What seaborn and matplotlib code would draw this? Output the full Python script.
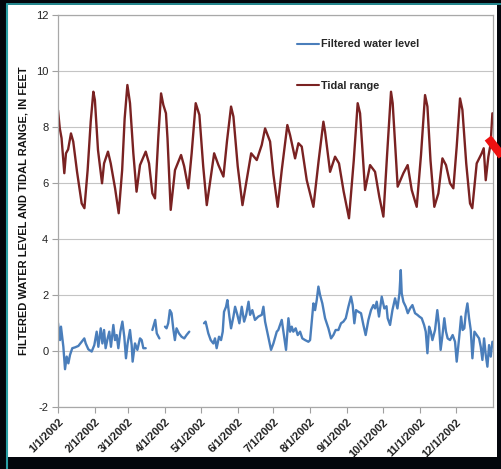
import matplotlib
matplotlib.use("Agg")
import matplotlib.pyplot as plt
from matplotlib.lines import Line2D
from matplotlib.patches import Rectangle
import seaborn as sns
import pandas as pd

# ---------------- data (days since 1/1/2002, feet) ----------------
tide_days = [0, 1.5, 3, 5.3, 6.7, 8.5, 10.9, 12.8, 16, 19.9, 22.2, 24.9, 27.5, 29.7, 31,
             33.6, 37, 38.7, 42, 44.3, 48, 51, 53.9, 56, 58.3, 60.5, 63.3, 66, 68.9, 73.7,
             76.5, 79.3, 81.5, 84.3, 86.6, 88.5, 90.7, 92, 94.7, 98.3, 103.4, 106, 109.5,
             112.3, 115.7, 118.8, 122, 125, 128, 131.2, 134.8, 139, 142, 145.4, 147.4, 151,
             155, 158.5, 162.3, 167, 171.2, 174, 178.2, 181, 184.6, 188, 192.7, 195, 199.2,
             202, 204.8, 209, 214.6, 219, 223, 224.4, 228.6, 232.8, 236.1, 240, 244.5,
             248.5, 251.8, 253.8, 258, 262.2, 266.4, 270, 273.4, 276.5, 279.8, 281.2, 285.4,
             290.2, 293.8, 297.2, 301.4, 305, 308.4, 310.4, 313, 316.2, 319.6, 323, 326,
             329.4, 332.2, 335, 337.8, 339.8, 343, 346.2, 348.1, 351.8, 356, 357.7, 359.4,
             361.6, 363.5, 365]
tide_vals = [8.6, 7.95, 7.6, 6.35, 7.06, 7.2, 7.77, 7.48, 6.4, 5.27, 5.1, 6.46, 8.2, 9.26, 8.96,
             7.18, 5.99, 6.7, 7.12, 6.7, 5.8, 4.92, 6.46, 8.3, 9.5, 8.85, 7.06, 5.69, 6.64, 7.12,
             6.7, 5.63, 5.45, 7.65, 9.2, 8.79, 8.49, 7.6, 5.04, 6.46, 7.0, 6.6, 5.81,
             7.06, 8.85, 8.43, 6.6, 5.21, 6.1, 7.06, 6.64, 6.23, 7.5, 8.73, 8.37, 6.6,
             5.21, 6.1, 7.06, 6.82, 7.36, 7.95, 7.48, 6.3, 5.15, 6.46, 8.07, 7.71, 6.88,
             7.42, 7.3, 6.1, 5.15, 6.8, 8.19, 7.83, 6.4, 6.94, 6.7, 5.7, 4.74,
             6.8, 8.85, 8.49, 5.75, 6.64, 6.4, 5.5, 4.8, 7.0, 9.26, 8.85, 5.87,
             6.35, 6.64, 5.75, 5.15, 7.0, 9.14, 8.73, 6.8, 5.15, 5.63, 6.88, 6.64,
             5.99, 5.81, 7.3, 9.02, 8.61, 6.7, 5.27, 5.1, 6.7, 7.06, 7.24, 6.1,
             6.94, 7.4, 8.49]

# filtered water level, four continuous pieces separated by data gaps
wl_days_1 = [0, 1.7, 2.5, 4.5, 5.9, 7.3, 8.7, 10.1, 12, 14.3, 17.1, 19.9, 22.1, 23.3, 25.5,
             28.3, 30.5, 32.5, 33.9, 35.9, 37.3, 38.7, 40, 41.7, 43.1, 44.5, 46.5, 47.9,
             49.3, 50.7, 52.4, 54.1, 55.7, 57.1, 58.5, 60.5, 61.9, 62.7, 64.7, 66.7, 68.9,
             70.3, 71.7, 73.7]
wl_vals_1 = [1.0, 0.39, 0.87, 0.15, -0.65, -0.2, -0.44, -0.14, 0.1, 0.13, 0.18, 0.33, 0.45,
             0.27, 0.06, -0.02, 0.21, 0.69, 0.15, 0.81, 0.27, 0.75, 0.1, 0.45, 0.69, 0.15,
             0.93, 0.39, 0.57, 0.1, 0.69, 1.05, 0.51, -0.26, 0.27, 0.75, 0.21, -0.38, 0.27,
             0.04, 0.45, 0.39, 0.1, 0.1]
wl_days_2 = [79.3, 81.7, 83, 85.2]
wl_vals_2 = [0.75, 1.11, 0.63, 0.45]
wl_days_3 = [89.9, 91.2, 92.6, 94, 95.4, 96.8, 98.2, 99.6, 101.6, 103.8, 106.1, 108, 110.3]
wl_vals_3 = [0.87, 0.81, 0.99, 1.46, 1.35, 0.81, 0.39, 0.81, 0.63, 0.51, 0.45, 0.57, 0.69]
wl_days_4 = [122.7, 124, 126.3, 128.3, 130.5, 131.9, 133.3, 135.3, 137, 138.4, 139.5, 141.2,
             142.3, 144, 145.4, 147.4, 148.8, 150.7, 152.4, 154.4, 156.4, 158.1, 160.1,
             161.4, 163.3, 165.5, 168.3, 171.2, 172.6, 174, 176.7, 179, 181, 183.8, 185.1,
             188, 189.4, 191.6, 193.6, 195, 196.4, 197.7, 199.7, 201.4, 203.4, 205.3, 207.6,
             210.4, 211.8, 213.2, 214.6, 216, 217.4, 218.8, 220.2, 222.1, 224.4, 227.2,
             229.4, 231.4, 233.3, 235.6, 237.8, 239.8, 241.8, 244, 246.2, 247.6, 249, 250.4,
             252.4, 254.6, 256.6, 258.5, 260.8, 263, 265, 266.4, 267.8, 269.7, 272, 274.2,
             276, 277, 279, 281, 283.2, 285.2, 286.9, 288, 288.8, 290.2, 292.2, 293.9, 295.8,
             297.8, 300, 302, 303.6, 305.6, 307.6, 309, 310.4, 311.8, 313.2, 314.6, 316.8,
             318.7, 320.1, 321.5, 322.9, 324.6, 326, 327.4, 329.4, 331.6, 333.6, 335, 337,
             338.7, 340, 341.4, 342.6, 344, 345.4, 346.8, 348.2, 349.9, 351.8, 353.8, 355.2,
             356.6, 358, 359.4, 360.8, 362.2, 363.6, 365]
wl_vals_4 = [0.99, 1.05, 0.63, 0.39, 0.27, 0.45, 0.1, 0.51, 0.39, 0.69, 1.4, 1.58,
             1.82, 1.23, 0.81, 1.23, 1.58, 1.29, 0.99, 1.58, 1.05, 1.29, 1.76,
             1.29, 1.46, 1.11, 1.23, 1.29, 1.58, 1.05, 0.51, 0.04, 0.27, 0.69, 0.75,
             1.11, 0.69, 0.04, 1.17, 0.69, 0.87, 0.69, 0.81, 0.57, 0.69, 0.45, 0.39,
             0.33, 0.39, 1.05, 1.7, 1.46, 1.82, 2.3, 2.0, 1.7, 1.17, 0.81,
             0.45, 0.57, 0.75, 0.75, 0.99, 1.05, 1.17, 1.58, 1.94, 1.64, 0.99, 1.46,
             1.4, 1.35, 0.93, 0.57, 1.11, 1.46, 1.64, 1.52, 1.76, 1.23, 1.94, 1.52,
             1.6, 1.17, 0.93, 1.46, 1.88, 1.52, 2.06, 2.89, 2.06, 1.76, 1.58, 1.35, 1.52,
             1.64, 1.35, 1.29, 1.23, 1.17, 0.93, 0.69, -0.08, 0.87, 0.69, 0.39, 0.75,
             1.46, 0.93, 0.04, 0.51, 1.17, 0.69, 0.45, 0.39, 0.57, 0.33, -0.38, 0.45,
             1.23, 0.75, 0.81, 1.35, 1.7, 1.17, 0.75, -0.26, 0.69, 0.57, 0.45, 0.15,
             -0.32, 0.45, -0.14, -0.56, 0.21, -0.2, 0.33]

month_ticks = ["2002-%02d-01" % m for m in range(1, 13)]
y_ticks = [-2, 0, 2, 4, 6, 8, 10, 12]
series_labels = ["Filtered water level", "Tidal range"]

# ---------------- build frames ----------------
start = pd.Timestamp("2002-01-01")
tide_df = pd.DataFrame({"date": start + pd.to_timedelta(tide_days, unit="D"),
                        "value": tide_vals})
pieces = [(wl_days_1, wl_vals_1), (wl_days_2, wl_vals_2),
          (wl_days_3, wl_vals_3), (wl_days_4, wl_vals_4)]
wl_frames = []
for i, (d, v) in enumerate(pieces):
    wl_frames.append(pd.DataFrame({"date": start + pd.to_timedelta(d, unit="D"),
                                   "value": v, "seg": i}))
wl_df = pd.concat(wl_frames, ignore_index=True)

# ---------------- plotting ----------------
sns.set_theme(style="white")
plt.rcParams["font.family"] = ["Liberation Sans", "DejaVu Sans"]

W, H = 501, 469
fig = plt.figure(figsize=(W / 100, H / 100), dpi=100, facecolor="#03060c")

def fx(px):
    return px / W

def fy(py):
    return 1 - py / H

# white slide panel and teal borders (behind the axes)
fig.patches.append(Rectangle((fx(7), fy(457)), fx(497) - fx(7), fy(5) - fy(457),
                             transform=fig.transFigure, facecolor="white",
                             edgecolor="none", zorder=-10))
fig.add_artist(Line2D([fx(6.5), fx(6.5)], [0, fy(4)], transform=fig.transFigure,
                      color="#2a9fa6", lw=1.5, zorder=-5))
fig.add_artist(Line2D([fx(6.5), 1], [fy(4), fy(4)], transform=fig.transFigure,
                      color="#2a9fa6", lw=1.2, zorder=-5))

ax = fig.add_axes([fx(58), fy(407), fx(493) - fx(58), fy(15) - fy(407)])
ax.set_zorder(5)
ax.set_facecolor("white")

blue = "#4a7ebb"
red = "#7a2222"
sns.lineplot(data=wl_df, x="date", y="value", units="seg", estimator=None,
             color=blue, lw=1.7, ax=ax)
sns.lineplot(data=tide_df, x="date", y="value", color=red, lw=1.7, ax=ax)

ax.set_xlim(start, start + pd.Timedelta(days=365.5))
ax.set_ylim(-2, 12)
ax.set_yticks(y_ticks)
ax.set_yticklabels([str(t) for t in y_ticks], fontsize=8, color="#222222")
ax.set_xticks(pd.to_datetime(month_ticks))
ax.set_xticklabels([f"{d.month}/{d.day}/{d.year}" for d in pd.to_datetime(month_ticks)],
                   rotation=45, ha="right", rotation_mode="anchor",
                   fontsize=8, fontweight="bold", color="#222222")
ax.tick_params(axis="both", which="major", length=4, width=0.8, color="#a0a0a0",
               direction="out", pad=3, bottom=True, left=True)
ax.grid(axis="y", color="#c4c4c4", lw=0.8)
ax.grid(axis="x", visible=False)
for s in ax.spines.values():
    s.set_color("#a8a8a8")
    s.set_linewidth(0.9)
ax.set_xlabel("")
ax.set_ylabel("FILTERED WATER LEVEL AND TIDAL RANGE, IN FEET", fontsize=8,
              fontweight="bold", color="#111111", labelpad=5)

handles = [Line2D([], [], color=blue, lw=1.5), Line2D([], [], color=red, lw=1.5)]
ax.legend(handles, series_labels, loc="upper left",
          bbox_to_anchor=((292 - 58) / 435, (407 - 34) / 392),
          frameon=False, borderpad=0, handlelength=2.0, handletextpad=0.2,
          labelspacing=2.9, prop={"size": 7.8, "weight": "bold"})

# red arrow fragment at right edge of slide
fig.add_artist(Line2D([fx(488), fx(502)], [fy(138), fy(156)], transform=fig.transFigure,
                      color="#ee1111", lw=6, solid_capstyle="butt", zorder=10))

fig.savefig("out.png", dpi=100, facecolor=fig.get_facecolor())
